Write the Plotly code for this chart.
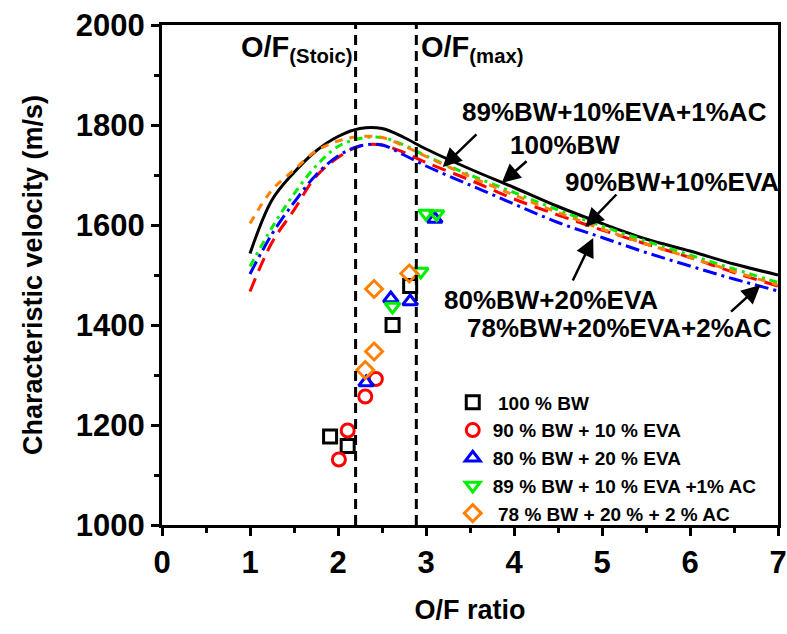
import plotly.graph_objects as go

# ---------------- data ----------------
of_theory = [1.0, 1.25, 1.5, 1.75, 2.0, 2.25, 2.5, 2.75, 3.0, 3.5, 4.0, 4.5, 5.0, 5.5, 6.0, 6.5, 7.0]
c_bw100 = [1543, 1650, 1705, 1748, 1777, 1793, 1793, 1775, 1752, 1712, 1675, 1637, 1603, 1572, 1548, 1522, 1500]
c_bw90_eva10 = [1467, 1565, 1630, 1697, 1735, 1758, 1760, 1745, 1725, 1690, 1652, 1620, 1590, 1562, 1535, 1505, 1478]
c_bw80_eva20 = [1502, 1582, 1645, 1700, 1738, 1758, 1760, 1740, 1718, 1680, 1642, 1605, 1575, 1545, 1518, 1492, 1468]
c_bw89_eva10_ac1 = [1517, 1595, 1662, 1718, 1757, 1773, 1775, 1760, 1738, 1700, 1665, 1630, 1598, 1568, 1540, 1512, 1485]
c_bw78_eva20_ac2 = [1603, 1670, 1710, 1748, 1768, 1777, 1775, 1758, 1737, 1697, 1660, 1625, 1592, 1562, 1535, 1507, 1480]

exp_bw100_x = [1.91, 2.11, 2.62, 2.82]
exp_bw100_y = [1177, 1158, 1400, 1478]
exp_bw90_x = [2.01, 2.11, 2.31, 2.43]
exp_bw90_y = [1131, 1189, 1257, 1292]
exp_bw80_x = [2.32, 2.60, 2.82, 3.10]
exp_bw80_y = [1285, 1453, 1447, 1612]
exp_bw89_x = [2.62, 2.94, 3.00, 3.12]
exp_bw89_y = [1437, 1507, 1623, 1622]
exp_bw78_x = [2.31, 2.41, 2.41, 2.81]
exp_bw78_y = [1310, 1347, 1472, 1503]

of_stoic = 2.20
of_max = 2.89

legend_names = [" 100 % BW", "90 % BW + 10 % EVA", "80 % BW + 20 % EVA",
                "89 % BW + 10 % EVA +1% AC", " 78 % BW + 20 % + 2 % AC"]
colors = ["#000000", "#FF0000", "#0000FF", "#00EE00", "#FF8000"]
symbols = ["square-open", "circle-open", "triangle-up-open", "triangle-down-open", "diamond-open"]
dashes = ["solid", "14px,8px", "14px,5px,3px,5px", "8px,5px,3px,5px", "8px,7px"]

FONT = "Liberation Sans, Arial, sans-serif"

fig = go.Figure()

theory = [c_bw100, c_bw90_eva10, c_bw80_eva20, c_bw89_eva10_ac1, c_bw78_eva20_ac2]
for i, ys in enumerate(theory):
    fig.add_trace(go.Scatter(x=of_theory, y=ys, mode="lines", showlegend=False,
                             line=dict(color=colors[i], width=3, dash=dashes[i],
                                       shape="spline", smoothing=1.0),
                             hoverinfo="skip"))

exps = [(exp_bw100_x, exp_bw100_y), (exp_bw90_x, exp_bw90_y), (exp_bw80_x, exp_bw80_y),
        (exp_bw89_x, exp_bw89_y), (exp_bw78_x, exp_bw78_y)]
for i, (xs, ys) in enumerate(exps):
    fig.add_trace(go.Scatter(x=xs, y=ys, mode="markers", name=legend_names[i],
                             marker=dict(symbol=symbols[i], size=13, color=colors[i],
                                         line=dict(width=3, color=colors[i]))))

# vertical dashed lines
for xv in [of_stoic, of_max]:
    fig.add_shape(type="line", x0=xv, x1=xv, y0=0, y1=1, xref="x", yref="paper",
                  line=dict(color="black", width=3, dash="10px,6px"))

ann_font = dict(family=FONT, size=26, color="black", weight="bold")

# O/F labels
fig.add_annotation(x=of_stoic, y=1952, xref="x", yref="y", xanchor="right", yanchor="middle",
                   text="O/F<sub>(Stoic)</sub>", showarrow=False,
                   font=dict(family=FONT, size=29, color="black", weight="bold"), xshift=-2)
fig.add_annotation(x=of_max, y=1952, xref="x", yref="y", xanchor="left", yanchor="middle",
                   text="O/F<sub>(max)</sub>", showarrow=False,
                   font=dict(family=FONT, size=29, color="black", weight="bold"), xshift=3)

# curve labels
labels = [("89%BW+10%EVA+1%AC", 5.14, 1826),
          ("100%BW", 4.58, 1760),
          ("90%BW+10%EVA", 5.80, 1686),
          ("80%BW+20%EVA", 4.42, 1450),
          ("78%BW+20%EVA+2%AC", 5.20, 1394)]
for t, x, y in labels:
    fig.add_annotation(x=x, y=y, text=t, showarrow=False, font=ann_font,
                       xanchor="center", yanchor="middle")

# arrows (tip, tail)
arrows = [((3.19, 1716), (3.59, 1784)),
          ((3.86, 1684), (4.16, 1730)),
          ((4.81, 1596), (5.18, 1664)),
          ((4.90, 1574), (4.66, 1486)),
          ((6.80, 1480), (6.45, 1424))]
for (tx, ty), (sx, sy) in arrows:
    fig.add_annotation(x=tx, y=ty, ax=sx, ay=sy, xref="x", yref="y", axref="x", ayref="y",
                       text="", showarrow=True, arrowhead=2, arrowsize=1.5, arrowwidth=2.5,
                       arrowcolor="black", standoff=0, startstandoff=0)

fig.update_layout(
    width=787, height=634,
    margin=dict(l=162, r=9, t=25, b=109, autoexpand=False),
    paper_bgcolor="white", plot_bgcolor="white",
    font=dict(family=FONT, color="black"),
    showlegend=True,
    legend=dict(x=0.472, y=0.283, xanchor="left", yanchor="top",
                bgcolor="rgba(0,0,0,0)", borderwidth=0,
                font=dict(family=FONT, size=19, color="black", weight="bold"),
                tracegroupgap=0, itemwidth=30),
    xaxis=dict(range=[0, 7], tickmode="linear", tick0=0, dtick=1, automargin=False,
               showline=True, linecolor="black", linewidth=3, mirror=True,
               ticks="outside", ticklen=8, tickwidth=3, tickcolor="black",
               minor=dict(dtick=0.5, ticks="outside", ticklen=5, tickwidth=3, tickcolor="black"),
               showgrid=False, zeroline=False,
               tickfont=dict(family=FONT, size=31, color="black", weight="bold"),
               title=dict(text="O/F ratio", standoff=21,
                          font=dict(family=FONT, size=27, color="black", weight="bold"))),
    yaxis=dict(range=[1000, 2000], tickmode="linear", tick0=1000, dtick=200, automargin=False,
               showline=True, linecolor="black", linewidth=3, mirror=True,
               ticks="outside", ticklen=8, tickwidth=3, tickcolor="black",
               minor=dict(dtick=100, ticks="outside", ticklen=5, tickwidth=3, tickcolor="black"),
               showgrid=False, zeroline=False,
               tickfont=dict(family=FONT, size=31, color="black", weight="bold"),
               title=dict(text="Characteristic velocity (m/s)", standoff=26,
                          font=dict(family=FONT, size=27, color="black", weight="bold"))),
)

fig.write_html("out.html", config={"displayModeBar": False},
               post_script="document.body.style.margin='0';document.body.style.overflow='hidden';")
